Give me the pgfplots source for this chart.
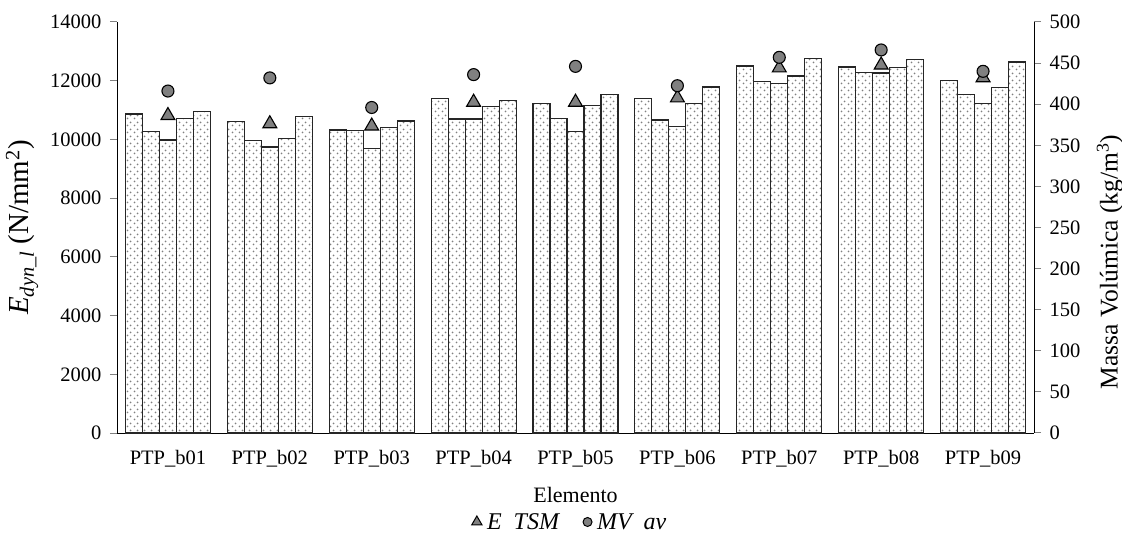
\documentclass[border=0pt]{standalone}
\usepackage{pgfplots}
\pgfplotsset{compat=1.18}
\usepackage{pgfplotstable}
\usepackage{fontspec}
\setmainfont{Liberation Serif}
\usetikzlibrary{patterns.meta}
\tikzdeclarepattern{
  name=mydots,
  type=uncolored,
  bottom left={(0,0)},
  top right={(7bp,7bp)},
  tile size={(7bp,7bp)},
  code={
    \fill (1.75bp,1.75bp) circle (1.1bp);
    \fill (5.25bp,5.25bp) circle (1.1bp);
  }
}
\pgfplotstableread{
g b1 b2 b3 b4 b5 tsm mv
0 10865 10262 9980 10718 10957 10814 416
1 10603 9956 9741 10037 10786 10535 432
2 10320 10296 9684 10412 10627 10456 396
3 11400 10695 10695 11127 11318 11268 436
4 11216 10706 10275 11148 11523 11268 446
5 11387 10661 10446 11227 11785 11416 422.5
6 12500 11966 11897 12160 12762 12438 457
7 12466 12273 12262 12443 12715 12534 466
8 12012 11536 11227 11762 12636 12102 440
}\data
\newcommand{\fs}{\fontsize{20.5bp}{24bp}\selectfont}
\pgfplotsset{
  barsty/.style={ybar, bar width=17bp, draw=black!85, line width=1.1bp, pattern=mydots, pattern color=black!50, forget plot},
}
\begin{document}
\begin{tikzpicture}[font=\fs]
\useasboundingbox (0,0) rectangle (1122bp,540bp);
\begin{axis}[
  at={(117bp,107bp)}, anchor=south west,
  scale only axis, width=917bp, height=411bp,
  xmin=-0.5, xmax=8.5, ymin=0, ymax=14000,
  axis x line*=bottom, axis y line*=left,
  axis line style={line width=1bp},
  xtick={0,...,8},
  xticklabels={PTP\_b01,PTP\_b02,PTP\_b03,PTP\_b04,PTP\_b05,PTP\_b06,PTP\_b07,PTP\_b08,PTP\_b09},
  x tick style={draw=none},
  xticklabel style={yshift=-7bp},
  yticklabel style={xshift=-5bp},
  ytick distance=2000, scaled y ticks=false,
  tick align=outside, major tick length=7bp,
  y tick style={line width=1bp},
  tick label style={font=\fs},
  /pgf/number format/assume math mode=true,
  /pgf/number format/1000 sep={},
  xlabel={Elemento},
  xlabel style={font=\fontsize{22bp}{26bp}\selectfont, at={(axis description cs:0.5,-0.151)}, anchor=center},
  ylabel={\textit{E}\textsubscript{\textit{dyn\_l}} (N/mm\textsuperscript{2})},
  ylabel style={font=\fontsize{29bp}{34bp}\selectfont, at={(axis description cs:-0.1036,0.5)}, anchor=center},
  clip=false,
  legend style={draw=none, font=\fontsize{24bp}{28bp}\selectfont\itshape, at={(0.494,-0.2165)}, anchor=center, legend columns=2,
    /tikz/every odd column/.append style={column sep=3bp},
    /tikz/every even column/.append style={column sep=22bp}},
]
\addplot[barsty, bar shift=-34bp] table[x=g, y=b1] {\data};
\addplot[barsty, bar shift=-17bp] table[x=g, y=b2] {\data};
\addplot[barsty, bar shift=0bp] table[x=g, y=b3] {\data};
\addplot[barsty, bar shift=17bp] table[x=g, y=b4] {\data};
\addplot[barsty, bar shift=34bp] table[x=g, y=b5] {\data};
\addplot[only marks, mark=triangle*, mark size=8bp, mark options={fill=black!50, draw=black, line width=1.1bp}, forget plot] table[x=g, y=tsm] {\data};
\addlegendimage{only marks, mark=triangle*, mark size=6bp, mark options={fill=black!50, draw=black, line width=1bp}}
\addlegendentry{E\ \ TSM}
\addlegendimage{only marks, mark=*, mark size=4.5bp, mark options={fill=black!50, draw=black, line width=1bp}}
\addlegendentry{MV\ \ av}
\end{axis}
\begin{axis}[
  at={(117bp,107bp)}, anchor=south west,
  scale only axis, width=917bp, height=411bp,
  xmin=-0.5, xmax=8.5, ymin=0, ymax=500,
  axis x line=none, axis y line*=right,
  axis line style={line width=1bp},
  ytick distance=50,
  tick align=outside, major tick length=7bp,
  y tick style={line width=1bp},
  tick label style={font=\fs},
  yticklabel style={xshift=5bp},
  /pgf/number format/assume math mode=true,
  ylabel={Massa Volúmica (kg/m\textsuperscript{3})},
  ylabel style={font=\fontsize{25.5bp}{30bp}\selectfont, at={(axis description cs:1.0829,0.416)}, anchor=center},
  clip=false,
]
\addplot[only marks, mark=*, mark size=6bp, mark options={fill=black!50, draw=black, line width=1.1bp}] table[x=g, y=mv] {\data};
\end{axis}
\end{tikzpicture}
\end{document}
